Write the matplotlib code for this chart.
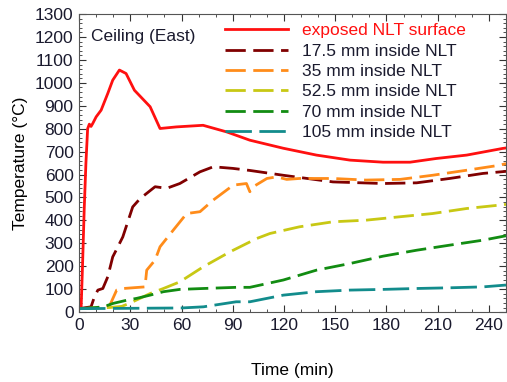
import matplotlib
matplotlib.use("Agg")
import matplotlib.pyplot as plt
from matplotlib.ticker import MultipleLocator

plt.rcParams['font.family'] = ['Liberation Sans', 'DejaVu Sans']

t_surf = [0, 1.2, 2, 3, 4, 5, 6, 7, 8, 10, 12.9, 16.8, 19.7, 23.6, 27.5, 32.4, 41.6, 47.4, 57, 72.6, 86.5, 100, 119.5, 139, 158.7, 178, 193.8, 209, 227, 248, 250]
T_surf = [15, 20, 200, 450, 650, 800, 820, 810, 823, 852, 881, 954, 1012, 1056, 1041, 968, 896, 801, 808, 815, 786, 750, 715, 685, 663, 654, 654, 670, 685, 714, 716]

t_175 = [0, 7, 9, 11, 13.9, 16.8, 19.7, 21.7, 25.6, 31.4, 35.7, 44.5, 51.3, 59, 70.8, 78.6, 90, 100, 119.5, 148.7, 178, 197.7, 217, 236.5, 250]
T_175 = [15, 23, 67, 96, 103, 154, 241, 270, 328, 459, 495, 547, 540, 561, 612, 634, 627, 618, 597, 568, 561, 564, 583, 605, 614]

t_35 = [0, 15, 18, 22, 26, 38.6, 39.6, 44.5, 47.4, 55.2, 63, 70.8, 78.6, 90.3, 98, 100, 102, 110, 115.7, 121.6, 129, 148.7, 168, 188, 207, 227, 246.5, 250]
T_35 = [15, 20, 30, 96, 103, 110, 183, 227, 285, 358, 430, 438, 489, 554, 561, 525, 547, 583, 590, 579, 583, 583, 576, 579, 597, 619, 641, 648]

t_525 = [0, 18, 25, 30, 35.7, 41.6, 49.4, 59, 72.8, 88.4, 104, 111.8, 129, 148.7, 168, 188, 207, 227, 246.5, 250]
T_525 = [15, 20, 25, 40, 60, 81, 103, 132, 198, 263, 321, 343, 372, 394, 401, 416, 430, 452, 467, 470]

t_70 = [0, 10, 14.2, 20, 28, 33.8, 41.6, 49.4, 59, 72.8, 92, 100, 119.6, 139, 158.7, 178, 197.7, 217, 236.7, 250]
T_70 = [15, 20, 23, 38, 52, 60, 74, 89, 99, 103, 108, 108, 140, 183, 212, 244, 270, 292, 314, 333]

t_105 = [0, 60, 72.8, 92, 100, 119.6, 139, 158.7, 178, 197.7, 217, 236.5, 250]
T_105 = [15, 18, 23, 45, 45, 74, 89, 96, 99, 103, 106, 110, 118]

labels = ['exposed NLT surface', '17.5 mm inside NLT', '35 mm inside NLT',
          '52.5 mm inside NLT', '70 mm inside NLT', '105 mm inside NLT']
colors = ['#FF1010', '#800000', '#FF8C1A', '#C8C814', '#128C12', '#128C8C']

fig = plt.figure(figsize=(5.07, 3.82), dpi=100)
ax = fig.add_axes([0.156, 0.183, 0.842, 0.78])

lw = 2.0
dsh = (7.3, 2.7)
ax.plot(t_surf, T_surf, color=colors[0], lw=lw, label=labels[0])
ax.plot(t_175, T_175, color=colors[1], lw=lw, dashes=dsh, label=labels[1])
ax.plot(t_35, T_35, color=colors[2], lw=lw, dashes=dsh, label=labels[2])
ax.plot(t_525, T_525, color=colors[3], lw=lw, dashes=dsh, label=labels[3])
ax.plot(t_70, T_70, color=colors[4], lw=lw, dashes=dsh, label=labels[4])
ax.plot(t_105, T_105, color=colors[5], lw=lw, dashes=(9.5, 2.7), label=labels[5])

ax.set_xlim(0, 250)
ax.set_ylim(0, 1300)
ax.xaxis.set_major_locator(MultipleLocator(30))
ax.xaxis.set_minor_locator(MultipleLocator(10))
ax.yaxis.set_major_locator(MultipleLocator(100))
ax.yaxis.set_minor_locator(MultipleLocator(20))
ax.tick_params(which='both', direction='in', top=True, right=True, labelsize=12.5,
               colors='#333333', labelcolor='#1a1a2e', pad=4)
ax.tick_params(which='major', length=5)
ax.tick_params(which='minor', length=2.5)
for s in ax.spines.values():
    s.set_color('#555555')

ax.set_xlabel('Time (min)', fontsize=12.5, labelpad=22)
ax.set_ylabel('Temperature (°C)', fontsize=12.5, labelpad=5)

ax.text(0.029, 0.926, 'Ceiling (East)', transform=ax.transAxes, fontsize=12.5,
        color='#1a1a2e', va='center', ha='left')

leg = ax.legend(loc='upper left', bbox_to_anchor=(0.342, 0.97), frameon=False, fontsize=12.5,
                handlelength=3.6, handletextpad=0.85, labelspacing=0.3, borderpad=0,
                borderaxespad=0)
for txt, c in zip(leg.get_texts(), ['#FF1010'] + ['#1a1a2e'] * 5):
    txt.set_color(c)

fig.savefig('out.png', dpi=100)
